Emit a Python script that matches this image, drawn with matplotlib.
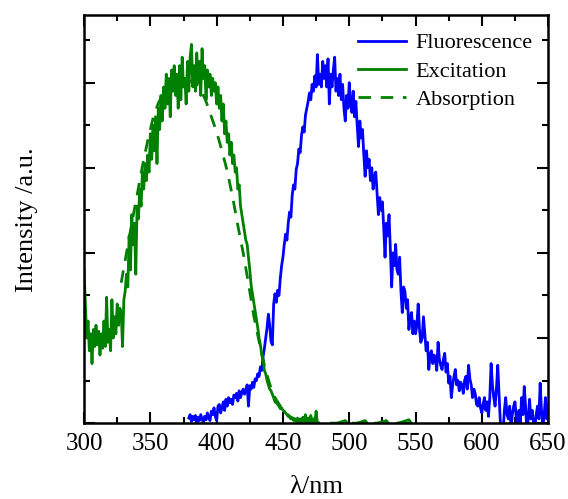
import matplotlib
matplotlib.use('Agg')
import matplotlib.pyplot as plt
from matplotlib.ticker import MultipleLocator
import numpy as np

plt.rcParams['font.family'] = ['Liberation Serif', 'DejaVu Serif']

# fluorescence, 379..650 nm, 1 nm step
fluo = [0.06,
    0.10, 0.02, 0.08, 0.04, 0.09, -0.02, 0.07, 0.03, 0.10, 0.05,
    0.00, 0.08, 0.04, 0.12, 0.06, 0.03, 0.14, 0.10, 0.18, 0.08,
    0.03, 0.20, 0.22, 0.12, 0.18, 0.25, 0.15, 0.28, 0.20, 0.30,
    0.24, 0.28, 0.22, 0.33, 0.30, 0.35, 0.26, 0.38, 0.30, 0.36,
    0.40, 0.34, 0.39, 0.45, 0.20, 0.44, 0.40, 0.48, 0.42, 0.52,
    0.50, 0.58, 0.55, 0.66, 0.62, 0.78, 0.88, 1.00, 1.12, 1.28,
    1.15, 0.96, 0.92, 1.40, 1.52, 1.42, 1.56, 1.50, 1.70, 1.85,
    1.95, 2.10, 2.22, 2.15, 2.35, 2.48, 2.42, 2.68, 2.80, 2.75,
    2.98, 3.05, 3.22, 3.18, 3.38, 3.48, 3.42, 3.62, 3.70, 3.78,
    3.88, 3.80, 3.98, 3.90, 4.08, 3.95, 4.33, 3.98, 4.10, 3.95,
    4.25, 4.05, 4.20, 3.95, 4.28, 3.75, 4.10, 3.95, 4.15, 4.30,
    3.90, 4.05, 3.85, 4.10, 3.80, 3.98, 3.70, 3.55, 3.85, 3.70,
    4.00, 3.75, 3.65, 3.90, 3.60, 3.78, 3.50, 3.25, 3.55, 3.35,
    3.45, 3.15, 2.90, 3.20, 3.00, 3.10, 2.85, 3.00, 2.75, 2.90,
    2.95, 2.70, 2.45, 2.65, 2.50, 2.60, 2.30, 1.95, 2.35, 2.20,
    2.45, 2.05, 1.60, 2.00, 1.85, 2.10, 1.80, 1.75, 1.95, 1.55,
    1.30, 1.60, 1.55, 1.35, 1.45, 1.10, 1.25, 1.30, 1.05, 1.20,
    1.05, 1.15, 1.40, 1.10, 0.95, 1.00, 1.25, 1.05, 0.85, 0.95,
    0.63, 0.80, 0.85, 0.70, 0.80, 0.75, 0.62, 0.95, 0.75, 0.68,
    0.63, 0.75, 0.82, 0.60, 0.70, 0.47, 0.55, 0.30, 0.45, 0.55,
    0.63, 0.45, 0.50, 0.38, 0.48, 0.45, 0.35, 0.50, 0.55, 0.40,
    0.68, 0.52, 0.45, 0.30, 0.40, 0.35, 0.22, 0.20, 0.30, 0.18,
    0.12, 0.22, 0.30, 0.15, 0.25, 0.08, 0.30, 0.70, 0.45, 0.30,
    0.20, 0.40, 0.68, 0.35, 0.00, -0.05, -0.10, 0.15, 0.30, 0.10,
    0.05, 0.20, -0.05, 0.10, 0.20, 0.25, 0.05, -0.05, 0.15, 0.00,
    0.30, 0.10, 0.43, 0.20, -0.10, 0.05, 0.28, 0.05, 0.15, 0.00,
    -0.05, 0.10, 0.20, 0.05, 0.47, 0.15, -0.05, 0.10, 0.30, 0.05,
    0.20]
fluo_nm = np.arange(379, 379 + len(fluo))

# excitation, 300..479 nm, 1 nm step, then a few points on the tail
exc = [
    1.80, 1.40, 1.00, 1.20, 0.85, 1.05, 0.70, 1.10, 0.90, 1.15,
    0.92, 1.08, 0.80, 1.05, 0.88, 1.20, 0.90, 1.48, 0.95, 1.10,
    0.85, 1.45, 1.00, 1.25, 1.05, 1.40, 1.15, 1.35, 1.30, 0.90,
    1.45, 1.55, 1.75, 1.60, 2.20, 1.80, 2.45, 2.10, 2.35, 1.75,
    2.55, 2.40, 2.75, 2.55, 2.95, 2.75, 3.05, 2.85, 3.15, 2.95,
    3.40, 3.10, 3.50, 3.20, 3.60, 3.05, 3.70, 3.45, 3.85, 3.55,
    3.95, 3.70, 4.10, 3.75, 4.05, 3.60, 4.15, 3.90, 4.20, 3.85,
    4.10, 3.70, 4.20, 3.80, 4.30, 3.95, 4.05, 3.75, 4.25, 3.90,
    4.30, 4.45, 3.95, 4.20, 3.90, 4.35, 4.00, 4.25, 3.85, 4.40,
    4.05, 4.20, 3.80, 4.15, 3.95, 4.10, 3.85, 4.05, 3.90, 4.00,
    3.75, 3.95, 3.70, 3.85, 3.55, 3.75, 3.40, 3.55, 3.30, 3.40,
    3.15, 3.30, 3.05, 3.15, 2.95, 3.00, 2.75, 2.80, 2.55, 2.45,
    2.35, 2.25, 2.15, 2.10, 1.95, 1.80, 1.62, 1.52, 1.42, 1.32,
    1.22, 1.12, 1.00, 0.92, 0.80, 0.75, 0.62, 0.58, 0.50, 0.45,
    0.40, 0.38, 0.34, 0.30, 0.25, 0.24, 0.22, 0.20, 0.17, 0.18,
    0.15, 0.14, 0.12, 0.10, 0.08, 0.07, 0.05, 0.06, 0.03, 0.05,
    0.02, 0.06, 0.01, 0.05, 0.00, 0.07, 0.02, 0.10, 0.00, 0.06,
    0.02, 0.09, 0.01, 0.05, 0.00, 0.14, 0.00, -0.02, -0.03, -0.02]
exc_tail_nm = [485, 497, 500, 512, 515, 528, 531, 545, 548, 550]
exc_tail = [-0.03, 0.03, -0.03, 0.03, -0.03, 0.03, -0.03, 0.04, -0.03, -0.05]
exc_nm = np.concatenate([np.arange(300, 300 + len(exc)), exc_tail_nm])
exc = np.concatenate([exc, exc_tail])

# absorption (smooth)
abs_nm = [328, 332, 336, 340, 344, 348, 352, 356, 360, 364, 368, 372, 376, 380,
          384, 388, 392, 396, 400, 404, 408, 412, 416, 420, 424, 428, 432, 436,
          440, 444, 448, 452, 456, 460, 470, 480, 550]
absorb = [1.65, 2.00, 2.35, 2.68, 3.02, 3.32, 3.58, 3.76, 3.88, 3.94, 3.98, 4.00,
          4.01, 4.02, 4.00, 3.92, 3.78, 3.60, 3.42, 3.20, 2.96, 2.66, 2.32, 2.00,
          1.64, 1.26, 0.96, 0.68, 0.46, 0.30, 0.20, 0.12, 0.07, 0.04, 0.01, 0.0, 0.0]

fig = plt.figure(figsize=(5.68, 4.99), dpi=100)
ax = fig.add_axes([0.148, 0.152, 0.817, 0.817])

ax.plot(fluo_nm, fluo, color='#0000FF', lw=2.0, label='Fluorescence')
ax.plot(exc_nm, exc, color='#008000', lw=2.0, label='Excitation')
ax.plot(abs_nm, absorb, color='#008000', lw=2.0, ls=(0, (4.5, 3.5)), label='Absorption')

ax.set_xlim(300, 650)
ax.set_ylim(0, 4.79)
ax.xaxis.set_major_locator(MultipleLocator(50))
ax.xaxis.set_minor_locator(MultipleLocator(25))
ax.yaxis.set_major_locator(MultipleLocator(1))
ax.yaxis.set_minor_locator(MultipleLocator(0.5))
ax.tick_params(which='both', direction='in', top=True, right=True, width=1.5,
               labelleft=False, labelsize=18, pad=7)
ax.tick_params(which='major', length=8)
ax.tick_params(which='minor', length=4.5)
for s in ax.spines.values():
    s.set_linewidth(1.8)

ax.set_xlabel('λ/nm', fontsize=19)
ax.set_ylabel('Intensity /a.u.', fontsize=19)
ax.xaxis.set_label_coords(0.5, -0.13)
ax.yaxis.set_label_coords(-0.1, 0.5)

ax.legend(loc='upper right', bbox_to_anchor=(0.995, 0.99), frameon=False,
          fontsize=16, handlelength=2.2, handletextpad=0.4, labelspacing=0.35,
          borderaxespad=0.2)

fig.savefig('out.png', dpi=100)
